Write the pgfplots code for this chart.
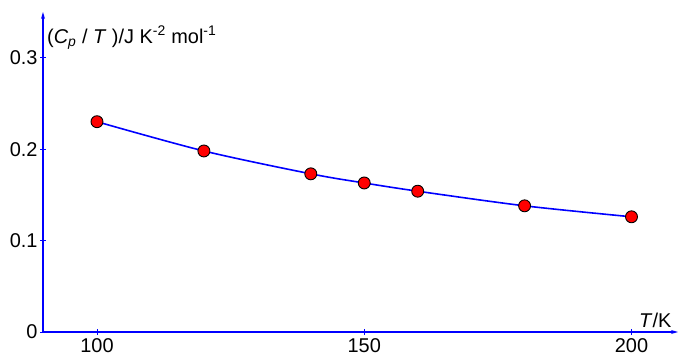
\documentclass[border=0pt]{standalone}
\usepackage{pgfplots}
\pgfplotsset{compat=1.18}
\usepackage{fontspec}
\setmainfont{Liberation Sans}
\usetikzlibrary{arrows.meta}
\begin{document}
\begin{tikzpicture}
\begin{axis}[
  scale only axis,
  width=635bp, height=320bp,
  xmin=89.9, xmax=208.7, ymin=0, ymax=0.35,
  axis lines=left,
  axis line style={blue, line width=1.2pt, -{Stealth[length=7pt,width=4pt]}},
  xtick={100,150,200}, ytick={0,0.1,0.2,0.3},
  yticklabels={0,0.1,0.2,0.3},
  tick style={blue, line width=0.6pt},
  tick align=center, major tick length=6pt,
  /pgf/number format/assume math mode=true,
  tick label style={font=\fontsize{20}{23}\selectfont},
  yticklabel style={xshift=1bp},
  clip=false,
]
\addplot[blue, line width=1.6pt, smooth, mark=*, mark size=6pt,
  mark options={fill=red, draw=black, line width=0.9pt}]
  coordinates {(100,0.230) (120,0.198) (140,0.173) (150,0.163) (160,0.154) (180,0.138) (200,0.126)};
\node[anchor=base west, font=\fontsize{20}{23}\selectfont, inner sep=0pt] at (axis cs:90.65,0.316) {(\textit{C\textsubscript{p}} / \textit{T} )/J K\textsuperscript{-2} mol\textsuperscript{-1}};
\node[anchor=base east, font=\fontsize{20}{23}\selectfont, inner sep=0pt] at (axis cs:207.5,0.0044) {\textit{T}/K};
\path (rel axis cs:0,0) ++(-43bp,-24bp) coordinate (bbA);
\path (rel axis cs:1,1) ++(1bp,12bp) coordinate (bbB);
\end{axis}
\useasboundingbox (bbA) rectangle (bbB);
\end{tikzpicture}
\end{document}
